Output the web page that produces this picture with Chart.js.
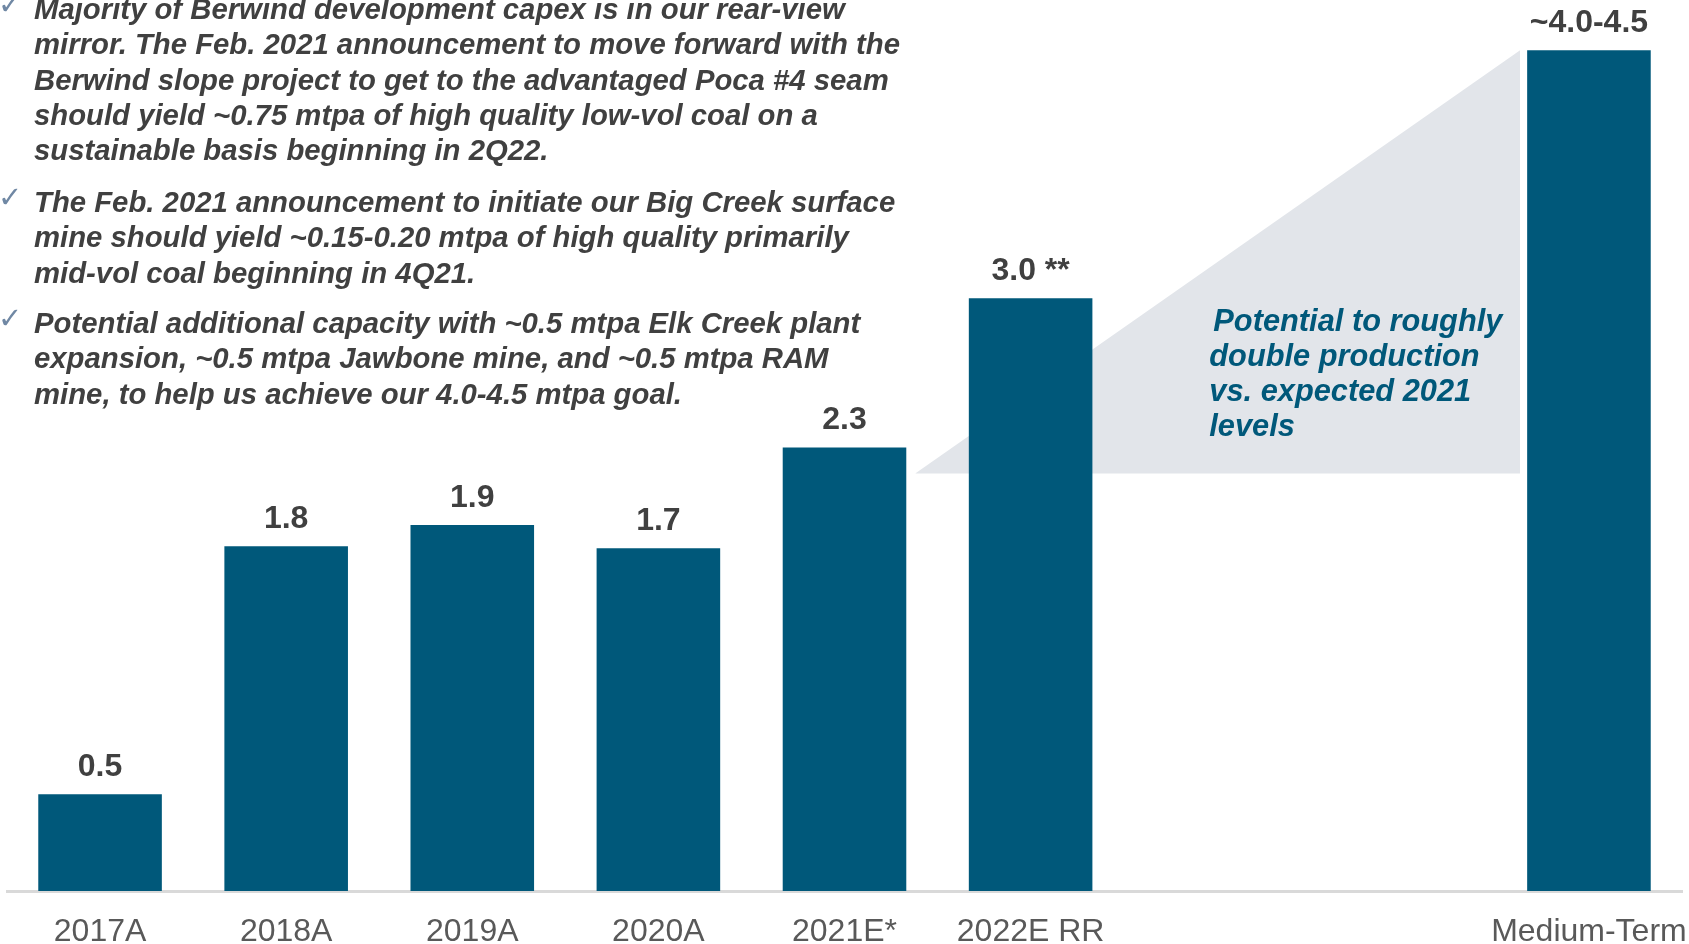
<!DOCTYPE html>
<html>
<head>
<meta charset="utf-8">
<script src="https://cdn.jsdelivr.net/npm/chart.js@4"></script>
<style>
  html, body { margin: 0; padding: 0; background: #fff; }
  #wrap { width: 1689px; height: 944px; position: relative; }
</style>
</head>
<body>
<div id="wrap"><canvas id="chart"></canvas></div>
<script>
// categories (two empty slots hold the shaded gap before Medium-Term)
const categories = ["2017A", "2018A", "2019A", "2020A", "2021E*", "2022E RR", "", "", "Medium-Term"];
// production, mtpa (bar heights)
const production = [0.5, 1.78, 1.89, 1.77, 2.29, 3.06, null, null, 4.34];
const valueLabels = ["0.5", "1.8", "1.9", "1.7", "2.3", "3.0 **", "", "", "~4.0-4.5"];

// shaded "double production" wedge, in category index / mtpa
const shadeX = [4.38, 7.63];
const shadeY = [2.155, 4.34];
const shadeBase = 2.155;

const bullets = [
    ["Majority of Berwind development capex is in our rear-view",
     "mirror. The Feb. 2021 announcement to move forward with the",
     "Berwind slope project to get to the advantaged Poca #4 seam",
     "should yield ~0.75 mtpa of high quality low-vol coal on a",
     "sustainable basis beginning in 2Q22."],
    ["The Feb. 2021 announcement to initiate our Big Creek surface",
     "mine should yield ~0.15-0.20 mtpa of high quality primarily",
     "mid-vol coal beginning in 4Q21."],
    ["Potential additional capacity with ~0.5 mtpa Elk Creek plant",
     "expansion, ~0.5 mtpa Jawbone mine, and ~0.5 mtpa RAM",
     "mine, to help us achieve our 4.0-4.5 mtpa goal."]
];
const noteLines = ["Potential to roughly", "double production", "vs. expected 2021", "levels"];

const BLUE = "#00587A";
const FONT = "'Liberation Sans', Arial, sans-serif";

const overlay = {
    id: "overlay",
    afterDatasetsDraw(chart) {
        let ctx = chart.ctx;
        let meta = chart.getDatasetMeta(0);
        ctx.save();

        // value labels over the bars
        ctx.fillStyle = "#404040";
        ctx.font = "bold 32px " + FONT;
        ctx.textAlign = "center";
        ctx.textBaseline = "middle";
        meta.data.forEach((bar, i) => {
            let idx = meta._parsed[i].x;
            ctx.fillText(valueLabels[idx], bar.x, bar.y - 27);
        });

        // note inside the wedge
        let x = chart.scales.x;
        let y = chart.scales.y;
        ctx.fillStyle = BLUE;
        ctx.font = "italic bold 30.8px " + FONT;
        ctx.textAlign = "left";
        let nx = x.getPixelForValue(5.96);
        let ny = y.getPixelForValue(2.935);
        noteLines.forEach((line, i) => {
            ctx.fillText(line, nx + (i === 0 ? 4 : 0), ny + i * 35);
        });

        // bullet text block
        let starts = [11, 204, 325];
        bullets.forEach((lines, b) => {
            ctx.fillStyle = "#7088A4";
            ctx.font = "29px 'DejaVu Sans'";
            ctx.fillText("\u2713", -2, starts[b] - 5);
            ctx.fillStyle = "#404040";
            ctx.font = "italic bold 29.3px " + FONT;
            lines.forEach((line, i) => {
                ctx.fillText(line, 34, starts[b] + i * 35.3);
            });
        });
        ctx.restore();
    }
};

const barPoints = [];
production.forEach((v, i) => { if (v != null) barPoints.push({ x: i, y: v }); });

new Chart(document.getElementById("chart"), {
    type: "bar",
    data: {
        datasets: [
            {
                type: "bar",
                data: barPoints,
                backgroundColor: BLUE,
                barPercentage: 0.664,
                categoryPercentage: 1,
                grouped: false,
                order: 0
            },
            {
                type: "line",
                data: shadeX.map((v, i) => ({ x: v, y: shadeY[i] })),
                borderWidth: 0,
                pointRadius: 0,
                backgroundColor: "#E2E5EA",
                fill: { value: shadeBase },
                order: 1
            }
        ]
    },
    options: {
        responsive: true,
        maintainAspectRatio: false,
        animation: false,
        layout: { padding: { left: 7, right: 7, top: 0, bottom: -4 } },
        plugins: { legend: { display: false }, tooltip: { enabled: false } },
        scales: {
            x: {
                type: "linear",
                min: -0.5,
                max: 8.5,
                offset: false,
                afterBuildTicks: axis => { axis.ticks = categories.map((c, i) => ({ value: i })); },
                grid: { display: false, drawTicks: true, tickLength: 25 },
                border: { color: "#D9D9D9", width: 3 },
                ticks: {
                    color: "#595959",
                    font: { family: FONT, size: 32, lineHeight: 1 },
                    padding: 0,
                    autoSkip: false,
                    maxRotation: 0,
                    callback: v => categories[v] ?? ""
                }
            },
            y: { min: 0, max: 4.6, display: false }
        }
    },
    plugins: [overlay]
});
</script>
</body>
</html>
